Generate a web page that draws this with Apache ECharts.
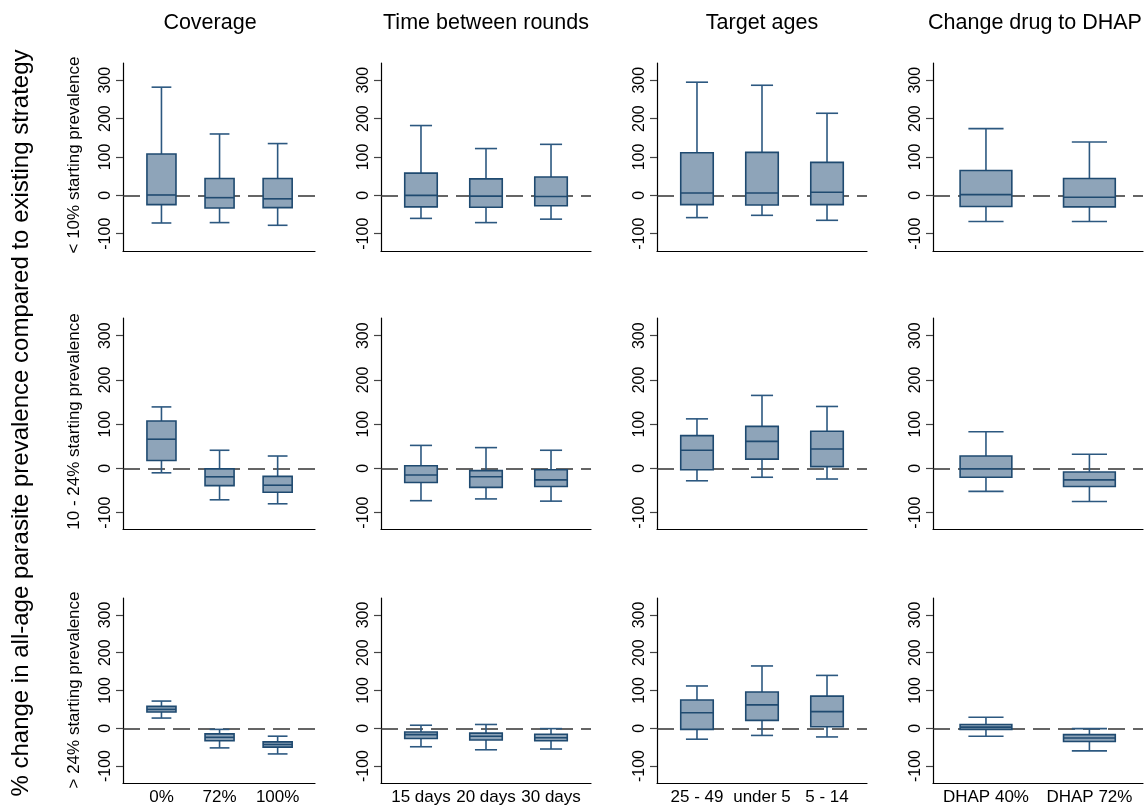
<!DOCTYPE html>
<html><head><meta charset="utf-8">
<script src="https://cdn.jsdelivr.net/npm/echarts@6/dist/echarts.min.js"></script>
<style>html,body{margin:0;padding:0;background:#fff}#c{width:1148px;height:806px}</style>
</head><body><div id="c"></div><script>
const panelTitles = ['Coverage', 'Time between rounds', 'Target ages', 'Change drug to DHAP'];
const rowLabels = ['< 10% starting prevalence', '10 - 24% starting prevalence', '> 24% starting prevalence'];
const yTitle = '% change in all-age parasite prevalence compared to existing strategy';
const yTicks = [-100, 0, 100, 200, 300];

const coverageCats = ['0%', '72%', '100%'];
const timeCats = ['15 days', '20 days', '30 days'];
const ageCats = ['25 - 49', 'under 5', '5 - 14'];
const drugCats = ['DHAP 40%', 'DHAP 72%'];

// each box: [lower whisker, Q1, median, Q3, upper whisker]
const coverageLow = [[-72, -24, 1, 108, 282], [-71, -33, -6, 44, 160], [-78, -32, -9, 44, 135]];
const timeLow = [[-60, -30, 0, 58, 182], [-71, -31, -2, 43, 122], [-62, -27, -3, 48, 133]];
const ageLow = [[-58, -24, 6, 111, 295], [-52, -25, 6, 112, 287], [-65, -24, 8, 86, 214]];
const drugLow = [[-68, -29, 2, 65, 174], [-68, -30, -5, 44, 139]];

const coverageMid = [[-10, 18, 66, 107, 139], [-71, -39, -19, -1, 41], [-80, -54, -38, -18, 28]];
const timeMid = [[-73, -32, -15, 6, 52], [-69, -43, -19, -5, 47], [-74, -41, -26, -3, 41]];
const ageMid = [[-28, -3, 41, 74, 112], [-20, 21, 61, 95, 165], [-24, 4, 44, 84, 140]];
const drugMid = [[-52, -20, -1, 28, 83], [-75, -41, -26, -8, 32]];

const coverageHigh = [[27, 43, 50, 58, 72], [-52, -33, -24, -15, -3], [-68, -50, -43, -36, -21]];
const timeHigh = [[-49, -27, -17, -10, 8], [-57, -31, -21, -13, 10], [-55, -33, -25, -16, -1]];
const ageHigh = [[-29, -3, 41, 75, 112], [-19, 21, 62, 96, 165], [-23, 4, 44, 85, 140]];
const drugHigh = [[-21, -3, 3, 10, 29], [-60, -35, -26, -17, -1]];

const panelData = [
  [coverageLow, timeLow, ageLow, drugLow],
  [coverageMid, timeMid, ageMid, drugMid],
  [coverageHigh, timeHigh, ageHigh, drugHigh]
];
const panelCats = [coverageCats, timeCats, ageCats, drugCats];

// layout
const colLeft = [123, 381, 657, 933];
const colWidth = [192, 210, 210, 210];
const colTitleX = [210, 486, 762, 1035];
const colXRange = [[0.338, 3.643], [0.385, 3.615], [0.385, 3.615], [0.488, 2.518]];
const rowTop = [63, 318, 598];
const rowHeight = [188, 211, 188];
const rowYRange = [[-145, 345], [-137, 340], [-145, 345]];

const FONT = "'Liberation Sans', Arial, Helvetica, sans-serif";
const FILL = '#8ea4b9';
const EDGE = '#1f4a70';
const WHISK = '#2c5880';

function renderBox(params, api) {
  const x = api.value(0);
  const lo = api.value(1), q1 = api.value(2), med = api.value(3), q3 = api.value(4), hi = api.value(5);
  const bw = api.size([0.5, 0])[0];
  const cw = api.size([0.34, 0])[0];
  const pLo = api.coord([x, lo]), pQ1 = api.coord([x, q1]), pMed = api.coord([x, med]),
        pQ3 = api.coord([x, q3]), pHi = api.coord([x, hi]);
  const cx = pLo[0];
  const ls = { stroke: WHISK, lineWidth: 1.6 };
  return {
    type: 'group',
    children: [
      { type: 'line', shape: { x1: cx, y1: pHi[1], x2: cx, y2: pQ3[1] }, style: ls },
      { type: 'line', shape: { x1: cx, y1: pLo[1], x2: cx, y2: pQ1[1] }, style: ls },
      { type: 'line', shape: { x1: cx - cw / 2, y1: pHi[1], x2: cx + cw / 2, y2: pHi[1] }, style: ls },
      { type: 'line', shape: { x1: cx - cw / 2, y1: pLo[1], x2: cx + cw / 2, y2: pLo[1] }, style: ls },
      { type: 'rect', shape: { x: cx - bw / 2, y: pQ3[1], width: bw, height: pQ1[1] - pQ3[1] },
        style: { fill: FILL, stroke: EDGE, lineWidth: 1.6 } },
      { type: 'line', shape: { x1: cx - bw / 2, y1: pMed[1], x2: cx + bw / 2, y2: pMed[1] },
        style: { stroke: EDGE, lineWidth: 1.6 } }
    ]
  };
}

const grid = [], xAxis = [], yAxis = [], series = [];
let idx = 0;
for (let r = 0; r < 3; r++) {
  for (let c = 0; c < 4; c++) {
    const cats = panelCats[c];
    grid.push({ left: colLeft[c], top: rowTop[r], width: colWidth[c], height: rowHeight[r] });
    xAxis.push({
      type: 'value', gridIndex: idx, min: colXRange[c][0], max: colXRange[c][1],
      axisLine: { show: true, onZero: false, lineStyle: { color: '#000', width: 1.2 } },
      axisTick: { show: false },
      splitLine: { show: false },
      axisLabel: {
        show: r === 2, customValues: cats.map((_, i) => i + 1),
        formatter: v => cats[Math.round(v) - 1] || '',
        fontSize: 17, fontFamily: FONT, color: '#000', margin: 6
      }
    });
    yAxis.push({
      type: 'value', gridIndex: idx, min: rowYRange[r][0], max: rowYRange[r][1],
      axisLine: { show: true, onZero: false, lineStyle: { color: '#000', width: 1.2 } },
      axisTick: { show: true, customValues: yTicks, length: 7, lineStyle: { color: '#444', width: 1.2 } },
      splitLine: { show: false },
      axisLabel: { customValues: yTicks, rotate: 90, fontSize: 16, fontFamily: FONT, color: '#000', margin: 9 }
    });
    series.push({
      type: 'custom', xAxisIndex: idx, yAxisIndex: idx,
      renderItem: renderBox,
      encode: { x: 0, y: [1, 2, 3, 4, 5] },
      data: panelData[r][c].map((v, i) => [i + 1].concat(v)),
      z: 3,
      markLine: {
        silent: true, symbol: 'none', label: { show: false }, z: 2,
        lineStyle: { color: '#333', width: 1.5, type: [17, 8] },
        data: [{ yAxis: 0 }]
      }
    });
    idx++;
  }
}

const graphic = [];
for (let c = 0; c < 4; c++) {
  graphic.push({
    type: 'text', x: colTitleX[c], y: 23,
    style: { text: panelTitles[c], fontSize: 21.5, fontFamily: FONT, fill: '#000',
      align: 'center', verticalAlign: 'middle', textAlign: 'center', textVerticalAlign: 'middle' }
  });
}
for (let r = 0; r < 3; r++) {
  graphic.push({
    type: 'text', x: 74, y: rowTop[r] + rowHeight[r] / 2 - 2, rotation: Math.PI / 2,
    style: { text: rowLabels[r], fontSize: 17, fontFamily: FONT, fill: '#000',
      align: 'center', verticalAlign: 'middle', textAlign: 'center', textVerticalAlign: 'middle' }
  });
}
graphic.push({
  type: 'text', x: 21, y: 423, rotation: Math.PI / 2,
  style: { text: yTitle, fontSize: 24, fontFamily: FONT, fill: '#000',
    align: 'center', verticalAlign: 'middle', textAlign: 'center', textVerticalAlign: 'middle' }
});

const chart = echarts.init(document.getElementById('c'), null, { renderer: 'canvas' });
chart.setOption({
  animation: false,
  backgroundColor: '#fff',
  grid, xAxis, yAxis, series, graphic
});
</script></body></html>
